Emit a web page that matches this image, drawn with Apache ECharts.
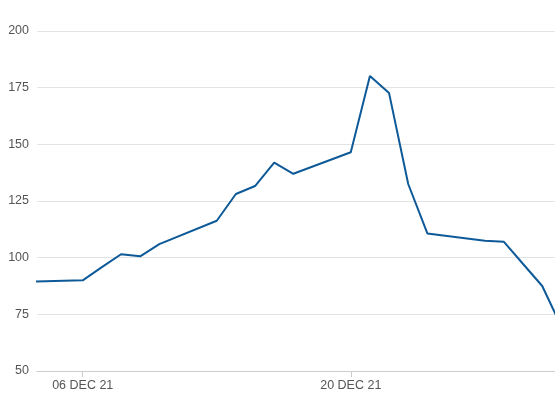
<!DOCTYPE html>
<html><head><meta charset="utf-8">
<script src="https://cdn.jsdelivr.net/npm/echarts@6/dist/echarts.min.js"></script>
<style>html,body{margin:0;padding:0;background:#fff}#c{width:555px;height:404px}</style>
</head><body><div id="c"></div>
<script>
// Data (December 2021)
const dates = ['2021-12-03','2021-12-06','2021-12-07','2021-12-08','2021-12-09','2021-12-10',
  '2021-12-13','2021-12-14','2021-12-15','2021-12-16','2021-12-17',
  '2021-12-20','2021-12-21','2021-12-22','2021-12-23','2021-12-24',
  '2021-12-27','2021-12-28','2021-12-29','2021-12-30','2021-12-31'];
const values = [89.3, 90.0, 95.8, 101.5, 100.6, 106.0,
  116.3, 128.1, 131.6, 141.9, 137.0,
  146.5, 180.1, 172.6, 132.5, 110.7,
  107.5, 107.0, 97.2, 87.5, 69.6];
const xTickDates = ['2021-12-06','2021-12-20'];
const yTicks = [50, 75, 100, 125, 150, 175, 200];
const xMin = '2021-12-03T14:40:00Z';
const xMax = '2021-12-30T16:00:00Z';

const DAY = 86400000;
const MONTHS = ['JAN','FEB','MAR','APR','MAY','JUN','JUL','AUG','SEP','OCT','NOV','DEC'];
const ts = d => Date.parse(d.length === 10 ? d + 'T00:00:00Z' : d) / DAY; // days since epoch
const fmt = v => { const d = new Date(Math.round(v) * DAY); return String(d.getUTCDate()).padStart(2,'0') + ' ' + MONTHS[d.getUTCMonth()] + ' ' + String(d.getUTCFullYear()).slice(2); };

const chart = echarts.init(document.getElementById('c'));
chart.setOption({
  animation: false,
  grid: { left: 37, right: 0, top: 31, bottom: 33, containLabel: false },
  xAxis: {
    type: 'value',
    min: ts(xMin), max: ts(xMax),
    axisLine: { show: true, lineStyle: { color: '#cccccc', width: 1 } },
    axisTick: { show: true, length: 6, inside: false, lineStyle: { color: '#cccccc' }, customValues: xTickDates.map(ts) },
    axisLabel: { color: '#555555', fontSize: 12.5, fontFamily: 'Liberation Sans, Arial, sans-serif', margin: 8,
      customValues: xTickDates.map(ts), formatter: v => fmt(v) },
    splitLine: { show: false }
  },
  yAxis: {
    type: 'value', min: yTicks[0], max: yTicks[yTicks.length-1], interval: 25,
    axisLine: { show: false }, axisTick: { show: false },
    axisLabel: { color: '#555555', fontSize: 12.5, fontFamily: 'Liberation Sans, Arial, sans-serif', margin: 8 },
    splitLine: { lineStyle: { color: '#e3e3e3', width: 1 } }
  },
  series: [{
    type: 'line',
    data: dates.map((d, i) => [ts(d), values[i]]),
    showSymbol: false, symbol: 'none', clip: true,
    lineStyle: { color: '#0e5a98', width: 2 },
    itemStyle: { color: '#0e5a98' }
  }]
});
</script></body></html>
